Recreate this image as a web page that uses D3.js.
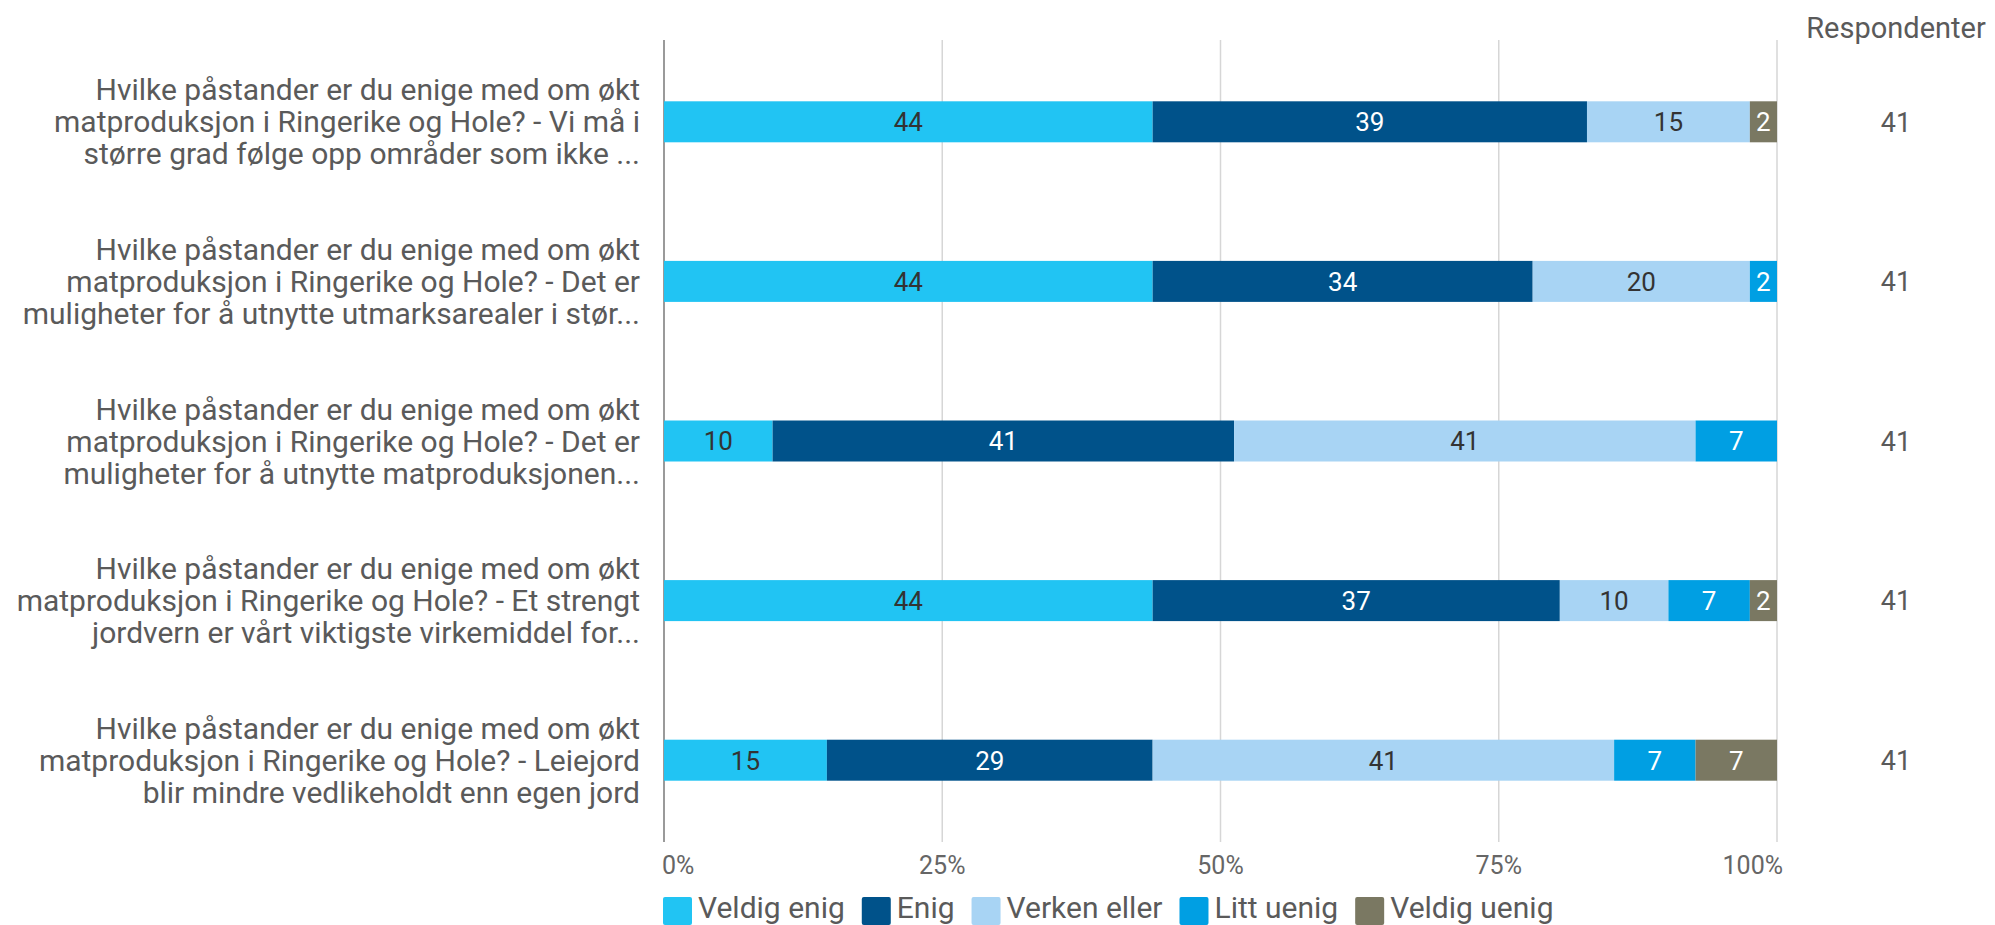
<!DOCTYPE html>
<html>
<head>
<meta charset="utf-8">
<script src="https://cdn.jsdelivr.net/npm/d3@7"></script>
<style>
  html, body { margin: 0; padding: 0; background: #fff; }
  svg { display: block; }
  text { font-family: Roboto, "Noto Sans", sans-serif; }
</style>
</head>
<body>
<svg id="chart" width="1995" height="925"></svg>
<script>
// ---- data ----
const categories = [
  ["Hvilke påstander er du enige med om økt", "matproduksjon i Ringerike og Hole? - Vi må i", "større grad følge opp områder som ikke ..."],
  ["Hvilke påstander er du enige med om økt", "matproduksjon i Ringerike og Hole? - Det er", "muligheter for å utnytte utmarksarealer i stør..."],
  ["Hvilke påstander er du enige med om økt", "matproduksjon i Ringerike og Hole? - Det er", "muligheter for å utnytte matproduksjonen..."],
  ["Hvilke påstander er du enige med om økt", "matproduksjon i Ringerike og Hole? - Et strengt", "jordvern er vårt viktigste virkemiddel for..."],
  ["Hvilke påstander er du enige med om økt", "matproduksjon i Ringerike og Hole? - Leiejord", "blir mindre vedlikeholdt enn egen jord"]
];
const seriesNames = ["Veldig enig", "Enig", "Verken eller", "Litt uenig", "Veldig uenig"];
// answer counts per statement (41 respondents each)
const veldigEnig  = [18, 18, 4, 18, 6];
const enig        = [16, 14, 17, 15, 12];
const verkenEller = [6, 8, 17, 4, 17];
const littUenig   = [0, 1, 3, 3, 3];
const veldigUenig = [1, 0, 0, 1, 3];
const respondents = [41, 41, 41, 41, 41];
const tickValues = [0, 25, 50, 75, 100];
const tickLabels = ["0%", "25%", "50%", "75%", "100%"];
const respHeader = "Respondenter";

const colors = ["#21c4f3", "#00528a", "#a8d4f4", "#009fe3", "#7a7862"];
const labelColors = ["#333333", "#ffffff", "#333333", "#ffffff", "#ffffff"];

const seriesValues = [veldigEnig, enig, verkenEller, littUenig, veldigUenig];
const rows = categories.map((c, i) => {
  const obj = { idx: i };
  seriesNames.forEach((s, k) => obj[s] = seriesValues[k][i] / respondents[i] * 100);
  return obj;
});

const svg = d3.select("#chart");

const x = d3.scaleLinear().domain([0, 100]).range([664, 1777]);
const y = d3.scaleBand().domain(d3.range(categories.length)).range([42, 840]).paddingInner(0).paddingOuter(0);
const barH = 41;

// gridlines
svg.append("g").selectAll("line").data(tickValues).join("line")
  .attr("x1", d => x(d)).attr("x2", d => x(d))
  .attr("y1", 40).attr("y2", 842)
  .attr("stroke", (d, i) => i === 0 ? "#9a9a9a" : "#d6d6d6")
  .attr("stroke-width", (d, i) => i === 0 ? 2 : 1.5);

// tick labels
svg.append("g").selectAll("text").data(tickValues).join("text")
  .attr("x", (d, i) => i === 0 ? x(d) - 2 : (i === tickValues.length - 1 ? x(d) + 6 : x(d)))
  .attr("y", 865)
  .attr("dy", "0.35em")
  .attr("text-anchor", (d, i) => i === 0 ? "start" : (i === tickValues.length - 1 ? "end" : "middle"))
  .attr("fill", "#666")
  .attr("font-size", 25)
  .text((d, i) => tickLabels[i]);

// stacked bars
const stack = d3.stack().keys(seriesNames);
const stacked = stack(rows);
const layers = svg.append("g").selectAll("g").data(stacked).join("g")
  .attr("fill", (d, k) => colors[k]);
layers.selectAll("rect").data(d => d.filter(s => s[1] - s[0] > 0)).join("rect")
  .attr("x", d => x(d[0]))
  .attr("width", d => x(d[1]) - x(d[0]))
  .attr("y", d => y(d.data.idx) + y.bandwidth() / 2 - barH / 2)
  .attr("height", barH);

// value labels
const lab = svg.append("g").selectAll("g").data(stacked).join("g")
  .attr("fill", (d, k) => labelColors[k]);
lab.selectAll("text").data(d => d.filter(s => s[1] - s[0] > 0)).join("text")
  .attr("x", d => (x(d[0]) + x(d[1])) / 2)
  .attr("y", d => y(d.data.idx) + y.bandwidth() / 2)
  .attr("dy", "0.36em")
  .attr("text-anchor", "middle")
  .attr("font-size", 26)
  .text(d => Math.round(d[1] - d[0]));

// category labels
const CAT_FONT = 30;
const lineH = 32;
const cat = svg.append("g").selectAll("text").data(categories).join("text")
  .attr("x", 640)
  .attr("y", (d, i) => y(i) + y.bandwidth() / 2)
  .attr("text-anchor", "end")
  .attr("fill", "#5a5a5a")
  .attr("font-size", CAT_FONT);
cat.selectAll("tspan").data(d => d).join("tspan")
  .attr("x", 640)
  .attr("dy", (d, j, n) => j === 0 ? ((-(n.length - 1) / 2) * lineH + 0.35 * CAT_FONT) : lineH)
  .text(d => d);

// respondents column
svg.append("text")
  .attr("x", 1896).attr("y", 28).attr("dy", "0.35em")
  .attr("text-anchor", "middle").attr("fill", "#5a5a5a").attr("font-size", 29)
  .text(respHeader);
svg.append("g").selectAll("text").data(respondents).join("text")
  .attr("x", 1896)
  .attr("y", (d, i) => y(i) + y.bandwidth() / 2)
  .attr("dy", "0.36em")
  .attr("text-anchor", "middle").attr("fill", "#5a5a5a").attr("font-size", 27)
  .text(d => d);

// legend
const leg = svg.append("g").attr("transform", "translate(663,897)");
let lx = 0;
seriesNames.forEach((s, k) => {
  const g = leg.append("g").attr("transform", `translate(${lx},0)`);
  g.append("rect").attr("width", 29).attr("height", 28).attr("rx", 2).attr("fill", colors[k]);
  const t = g.append("text").attr("x", 35).attr("y", 21)
    .attr("fill", "#5a5a5a").attr("font-size", 30).text(s);
  lx += 35 + t.node().getComputedTextLength() + 17;
});
</script>
</body>
</html>
